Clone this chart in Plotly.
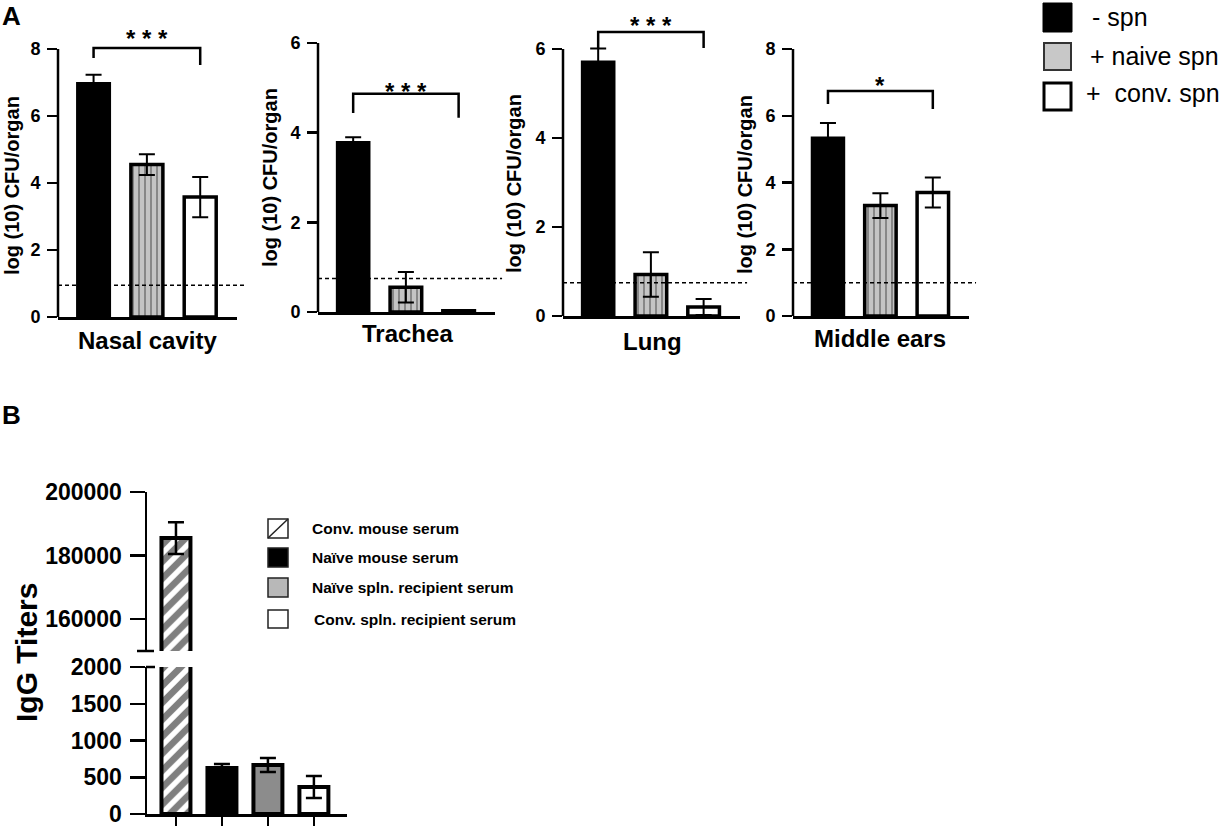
import plotly.graph_objects as go

# ---------------- data ----------------
organs = ["Nasal cavity", "Trachea", "Lung", "Middle ears"]
groups_A = ["- spn", "+ naive spn", "+  conv. spn"]
mean_neg = [6.97, 3.78, 5.71, 5.33]
mean_naive = [4.55, 0.55, 0.93, 3.31]
mean_conv = [3.58, 0.03, 0.20, 3.70]
sem_neg = [0.26, 0.12, 0.30, 0.45]
sem_naive = [0.31, 0.34, 0.50, 0.37]
sem_conv = [0.60, 0.0, 0.18, 0.45]
detect_limit = [0.95, 0.75, 0.75, 1.0]
y_max_A = [8, 6, 6, 8]
sig_labels = ["* * *", "* * *", "* * *", "*"]
bracket_top = [8.03, 4.87, 6.38, 6.74]
bracket_left = [7.73, 4.44, 6.0, 6.35]
bracket_right = [7.52, 4.33, 6.02, 6.2]
star_y = [8.45, 5.02, 6.63, 7.07]

sera = ["Conv. mouse serum", "Naïve mouse serum",
        "Naïve spln. recipient serum", "Conv. spln. recipient serum"]
igg_mean = [185500, 626, 667, 367]
igg_sem = [5000, 54, 95, 150]
b_upper_ticks = [160000, 180000, 200000]
b_lower_ticks = [0, 500, 1000, 1500, 2000]
b_upper_range = [150000, 200000]
b_lower_range = [0, 2000]

# ---------------- layout helpers ----------------
W, H = 1224, 826
FONT = "Liberation Sans"


def fx(p):
    return p / W


def fy(p):
    return 1 - p / H


fig = go.Figure()

# pixel boxes: (axis left, axis right, pixel of top tick, pixel of zero)
A_boxes = [(58, 237, 49, 317), (318, 495, 43, 312),
           (563, 740, 49, 316), (793, 969, 49, 316)]
A_dom_top = 6
A_title_pos = [(147, 340), (407, 333), (652, 341), (880, 338)]
A_ylab_pos = [(12, 186), (270, 178), (514, 184), (745, 184)]

means_A = [mean_neg, mean_naive, mean_conv]
sems_A = [sem_neg, sem_naive, sem_conv]
styles_A = [
    dict(color="black", line=dict(color="black", width=3)),
    dict(color="#c4c4c4", line=dict(color="black", width=3.5),
         pattern=dict(shape="|", fgcolor="#3c3c3c", bgcolor="#c4c4c4",
                      size=6, solidity=0.3)),
    dict(color="white", line=dict(color="black", width=3.5)),
]

annotations = []
shapes = []
layout_axes = {}

for k in range(4):
    ax = k + 1
    xs = "" if ax == 1 else str(ax)
    x0, x1, ytop, ybot = A_boxes[k]
    range_top = y_max_A[k] * (ybot - A_dom_top) / (ybot - ytop)
    for g in range(3):
        fig.add_trace(go.Bar(
            x=[g], y=[means_A[g][k]], width=0.6,
            marker=styles_A[g],
            error_y=dict(type="data", array=[sems_A[g][k]], color="black",
                         thickness=2, width=8, visible=sems_A[g][k] > 0),
            xaxis="x" + xs, yaxis="y" + xs, showlegend=False,
        ))
    # significance bracket
    fig.add_trace(go.Scatter(
        x=[0, 0, 2, 2],
        y=[bracket_left[k], bracket_top[k], bracket_top[k], bracket_right[k]],
        mode="lines", line=dict(color="black", width=2.5),
        cliponaxis=False, xaxis="x" + xs, yaxis="y" + xs, showlegend=False,
    ))
    annotations.append(dict(
        text=sig_labels[k], x=1, y=star_y[k], xref="x" + xs, yref="y" + xs,
        showarrow=False, yshift=-5, xanchor="center", yanchor="middle",
        font=dict(family=FONT, size=24, color="black", weight="bold")))
    # detection limit
    shapes.append(dict(
        type="line", xref="x" + xs + " domain", yref="y" + xs,
        x0=0, x1=1.04, y0=detect_limit[k], y1=detect_limit[k],
        line=dict(color="black", width=1.5, dash="4px,3px")))
    # y axis line (only up to the last tick)
    shapes.append(dict(
        type="line", xref="x" + xs + " domain", yref="y" + xs,
        x0=0, x1=0, y0=0, y1=y_max_A[k],
        line=dict(color="black", width=2.5)))
    layout_axes["xaxis" + xs] = dict(
        domain=[fx(x0), fx(x1)], range=[-0.667, 2.69], anchor="y" + xs,
        showline=True, linewidth=2.5, linecolor="black", ticks="",
        showticklabels=False, showgrid=False, zeroline=False)
    layout_axes["yaxis" + xs] = dict(
        domain=[fy(ybot), fy(A_dom_top)], range=[0, range_top],
        anchor="x" + xs,
        tickvals=list(range(0, y_max_A[k] + 1, 2)), showline=False,
        ticks="outside", ticklen=10, tickwidth=2.5, tickcolor="black",
        showgrid=False, zeroline=False, ticklabelstandoff=3,
        ticklabeloverflow="allow",
        tickfont=dict(family=FONT, size=18, color="black", weight="bold"))
    tx, ty = A_title_pos[k]
    annotations.append(dict(
        text=organs[k], x=fx(tx), y=fy(ty), xref="paper", yref="paper",
        showarrow=False, xanchor="center", yanchor="middle",
        font=dict(family=FONT, size=24, color="black", weight="bold")))
    lx, ly = A_ylab_pos[k]
    annotations.append(dict(
        text="log (10) CFU/organ", x=fx(lx), y=fy(ly), xref="paper",
        yref="paper", showarrow=False, textangle=-90,
        xanchor="center", yanchor="middle",
        font=dict(family=FONT, size=20, color="black", weight="bold")))

# legend A
legA_boxes = [(1043, 1072, 3, 32), (1044, 1071, 43, 70), (1044, 1071, 83, 110)]
legA_fill = ["black", "#c8c8c8", "white"]
legA_line = [("black", 1), ("#333333", 2), ("black", 3)]
legA_text = [(1090, 17), (1088, 56), (1084, 93)]
for i in range(3):
    bx0, bx1, by0, by1 = legA_boxes[i]
    shapes.append(dict(type="rect", xref="paper", yref="paper",
                       x0=fx(bx0), x1=fx(bx1), y0=fy(by1), y1=fy(by0),
                       fillcolor=legA_fill[i],
                       line=dict(color=legA_line[i][0], width=legA_line[i][1])))
    tx, ty = legA_text[i]
    annotations.append(dict(text=groups_A[i], x=fx(tx), y=fy(ty),
                            xref="paper", yref="paper", showarrow=False,
                            xanchor="left", yanchor="middle",
                            font=dict(family=FONT, size=25, color="black")))

# panel letters
for letter, (lx, ly) in zip(["A", "B"], [(11, 16), (11, 415)]):
    annotations.append(dict(text=letter, x=fx(lx), y=fy(ly), xref="paper",
                            yref="paper", showarrow=False,
                            xanchor="center", yanchor="middle",
                            font=dict(family=FONT, size=26, color="black",
                                      weight="bold")))

# ---------------- panel B ----------------
styles_B = [
    dict(color="white", line=dict(color="black", width=4),
         pattern=dict(shape="/", fgcolor="black", bgcolor="white",
                      size=12, solidity=0.55)),
    dict(color="black", line=dict(color="black", width=4)),
    dict(color="#8c8c8c", line=dict(color="black", width=4)),
    dict(color="white", line=dict(color="black", width=4)),
]
for i in range(4):
    high = igg_mean[i] > b_lower_range[1]
    fig.add_trace(go.Bar(
        x=[i], y=[igg_mean[i]], width=0.63, marker=styles_B[i],
        error_y=dict(type="data", array=[igg_sem[i]], color="black",
                     thickness=2.5, width=8, visible=not high),
        xaxis="x6", yaxis="y6", showlegend=False))
    if high:
        fig.add_trace(go.Bar(
            x=[i], y=[igg_mean[i]], width=0.63, marker=styles_B[i],
            error_y=dict(type="data", array=[igg_sem[i]], color="black",
                         thickness=2.5, width=8),
            xaxis="x5", yaxis="y5", showlegend=False))

bx0, bx1 = 147, 347
common_bx = dict(domain=[fx(bx0), fx(bx1)], range=[-0.63, 3.72],
                 showgrid=False, zeroline=False)
layout_axes["xaxis5"] = dict(common_bx, anchor="y5", visible=False)
layout_axes["xaxis6"] = dict(common_bx, anchor="y6", showline=True,
                             linewidth=2.5, linecolor="black",
                             ticks="outside", ticklen=12, tickwidth=2.5,
                             tickcolor="black", tickvals=[0, 1, 2, 3],
                             showticklabels=False)
tickfont_B = dict(family=FONT, size=23, color="black", weight="bold")
layout_axes["yaxis5"] = dict(
    domain=[fy(651), fy(492)], range=b_upper_range, anchor="x5",
    tickvals=b_upper_ticks, ticktext=[str(v) for v in b_upper_ticks],
    showline=True, linewidth=2.5, linecolor="black", ticks="outside",
    ticklen=15, tickwidth=2.5, tickcolor="black", showgrid=False,
    zeroline=False, ticklabelstandoff=3, ticklabeloverflow="allow",
    tickfont=tickfont_B)
layout_axes["yaxis6"] = dict(
    domain=[fy(814), fy(667)], range=b_lower_range, anchor="x6",
    tickvals=b_lower_ticks, ticktext=[str(v) for v in b_lower_ticks],
    showline=True, linewidth=2.5, linecolor="black", ticks="outside",
    ticklen=15, tickwidth=2.5, tickcolor="black", showgrid=False,
    zeroline=False, ticklabelstandoff=3, ticklabeloverflow="allow",
    tickfont=tickfont_B)

# axis break marks
shapes.append(dict(type="line", xref="paper", yref="paper",
                   x0=fx(137), x1=fx(154), y0=fy(651), y1=fy(651),
                   line=dict(color="black", width=2.5)))
shapes.append(dict(type="line", xref="paper", yref="paper",
                   x0=fx(146), x1=fx(155), y0=fy(667), y1=fy(667),
                   line=dict(color="black", width=2.5)))

annotations.append(dict(text="IgG Titers", x=fx(26), y=fy(653), xref="paper",
                        yref="paper", showarrow=False, textangle=-90,
                        xanchor="center", yanchor="middle",
                        font=dict(family=FONT, size=30, color="black",
                                  weight="bold")))

# legend B
legB_y = [(519, 538), (548, 567), (578, 597), (610, 628)]
legB_fill = ["white", "black", "#b8b8b8", "white"]
legB_text_x = [310, 310, 310, 312]
for i in range(4):
    y0p, y1p = legB_y[i]
    shapes.append(dict(type="rect", xref="paper", yref="paper",
                       x0=fx(268), x1=fx(288), y0=fy(y1p), y1=fy(y0p),
                       fillcolor=legB_fill[i],
                       line=dict(color="#222222", width=1.5)))
    if i == 0:
        shapes.append(dict(type="line", xref="paper", yref="paper",
                           x0=fx(268), x1=fx(288), y0=fy(y1p), y1=fy(y0p),
                           line=dict(color="#222222", width=1.5)))
    annotations.append(dict(text=sera[i], x=fx(legB_text_x[i]),
                            y=fy((y0p + y1p) / 2), xref="paper",
                            yref="paper", showarrow=False, xanchor="left",
                            yanchor="middle",
                            font=dict(family=FONT, size=15.5, color="black",
                                      weight="bold")))

fig.update_layout(
    width=W, height=H, autosize=False,
    margin=dict(l=0, r=0, t=0, b=0, pad=0, autoexpand=False),
    paper_bgcolor="white", plot_bgcolor="white",
    barmode="overlay", showlegend=False,
    annotations=annotations, shapes=shapes,
    **layout_axes,
)

fig.write_html(
    "out.html",
    config=dict(displayModeBar=False, staticPlot=True),
    post_script="document.body.style.margin='0px';"
                "document.body.style.overflow='hidden';",
)
